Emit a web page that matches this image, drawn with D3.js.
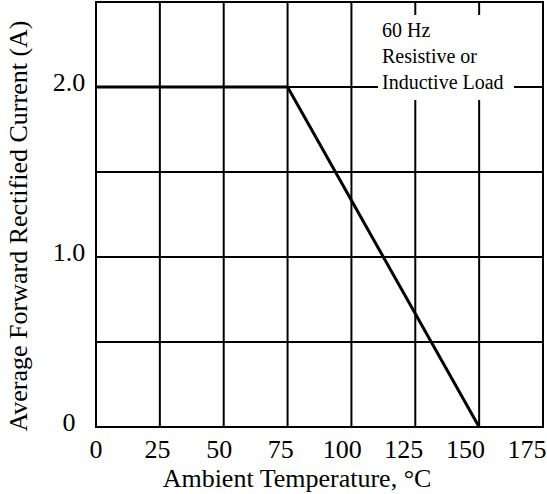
<!DOCTYPE html>
<html>
<head>
<meta charset="utf-8">
<script src="https://cdn.jsdelivr.net/npm/d3@7"></script>
<style>
  body { margin: 0; background: #fff; }
  svg { display: block; font-family: "Liberation Serif", "Times New Roman", serif; }
</style>
</head>
<body>
<svg width="547" height="494"></svg>
<script>
const svg = d3.select("svg");

// derating curve: temperature (°C) vs current (A)
const temps = [0, 75, 150];
const currents = [2.0, 2.0, 0];
const xTicks = [0, 25, 50, 75, 100, 125, 150, 175];
const yGrid = [0, 0.5, 1.0, 1.5, 2.0, 2.5];
const yLabels = [0, 1.0, 2.0];
const yLabelText = ["0", "1.0", "2.0"];
const noteLines = ["60 Hz", "Resistive or", "Inductive Load"];

const data = temps.map((t, i) => ({t: t, a: currents[i]}));

const xScale = d3.scaleLinear().domain([0, 175]).range([96, 543]);
// tick labels in the original sit a bit tighter than the grid
const xLabelScale = d3.scaleLinear().domain([0, 175]).range([96, 527]);
const yScale = d3.scaleLinear().domain([0, 2.5]).range([427, 2]);

// grid
svg.append("g").selectAll("line").data(xTicks)
  .enter().append("line")
    .attr("x1", d => xScale(d)).attr("x2", d => xScale(d))
    .attr("y1", yScale(0)).attr("y2", yScale(2.5))
    .attr("stroke", "#000").attr("stroke-width", 2);

svg.append("g").selectAll("line").data(yGrid)
  .enter().append("line")
    .attr("x1", xScale(0) - 1).attr("x2", xScale(175) + 1)
    .attr("y1", d => yScale(d)).attr("y2", d => yScale(d))
    .attr("stroke", "#000").attr("stroke-width", 2);

// note box knocks out the grid behind it
const note = svg.append("g");
note.append("rect")
  .attr("x", 378).attr("y", 15)
  .attr("width", 136).attr("height", 85)
  .attr("fill", "#fff");
note.selectAll("text").data(noteLines)
  .enter().append("text")
    .attr("x", 382)
    .attr("y", (d, i) => 37 + i * 26)
    .attr("font-size", 20)
    .text(d => d);

// curve
const line = d3.line()
  .x(d => xScale(d.t))
  .y(d => yScale(d.a));

svg.append("path")
  .datum(data)
  .attr("d", line)
  .attr("fill", "none")
  .attr("stroke", "#000")
  .attr("stroke-width", 3);

// tick labels
svg.append("g").selectAll("text").data(xTicks)
  .enter().append("text")
    .attr("x", d => xLabelScale(d))
    .attr("y", 458)
    .attr("text-anchor", "middle")
    .attr("font-size", 26)
    .text(d => d);

svg.append("g").selectAll("text").data(yLabels)
  .enter().append("text")
    .attr("x", 69)
    .attr("y", d => yScale(d) + 4)
    .attr("text-anchor", "middle")
    .attr("font-size", 26)
    .text((d, i) => yLabelText[i]);

// axis titles
svg.append("text")
  .attr("x", 297)
  .attr("y", 487)
  .attr("text-anchor", "middle")
  .attr("font-size", 26)
  .text("Ambient Temperature, °C");

svg.append("text")
  .attr("transform", "translate(27, 226) rotate(-90)")
  .attr("text-anchor", "middle")
  .attr("font-size", 26)
  .text("Average Forward Rectified Current (A)");
</script>
</body>
</html>
